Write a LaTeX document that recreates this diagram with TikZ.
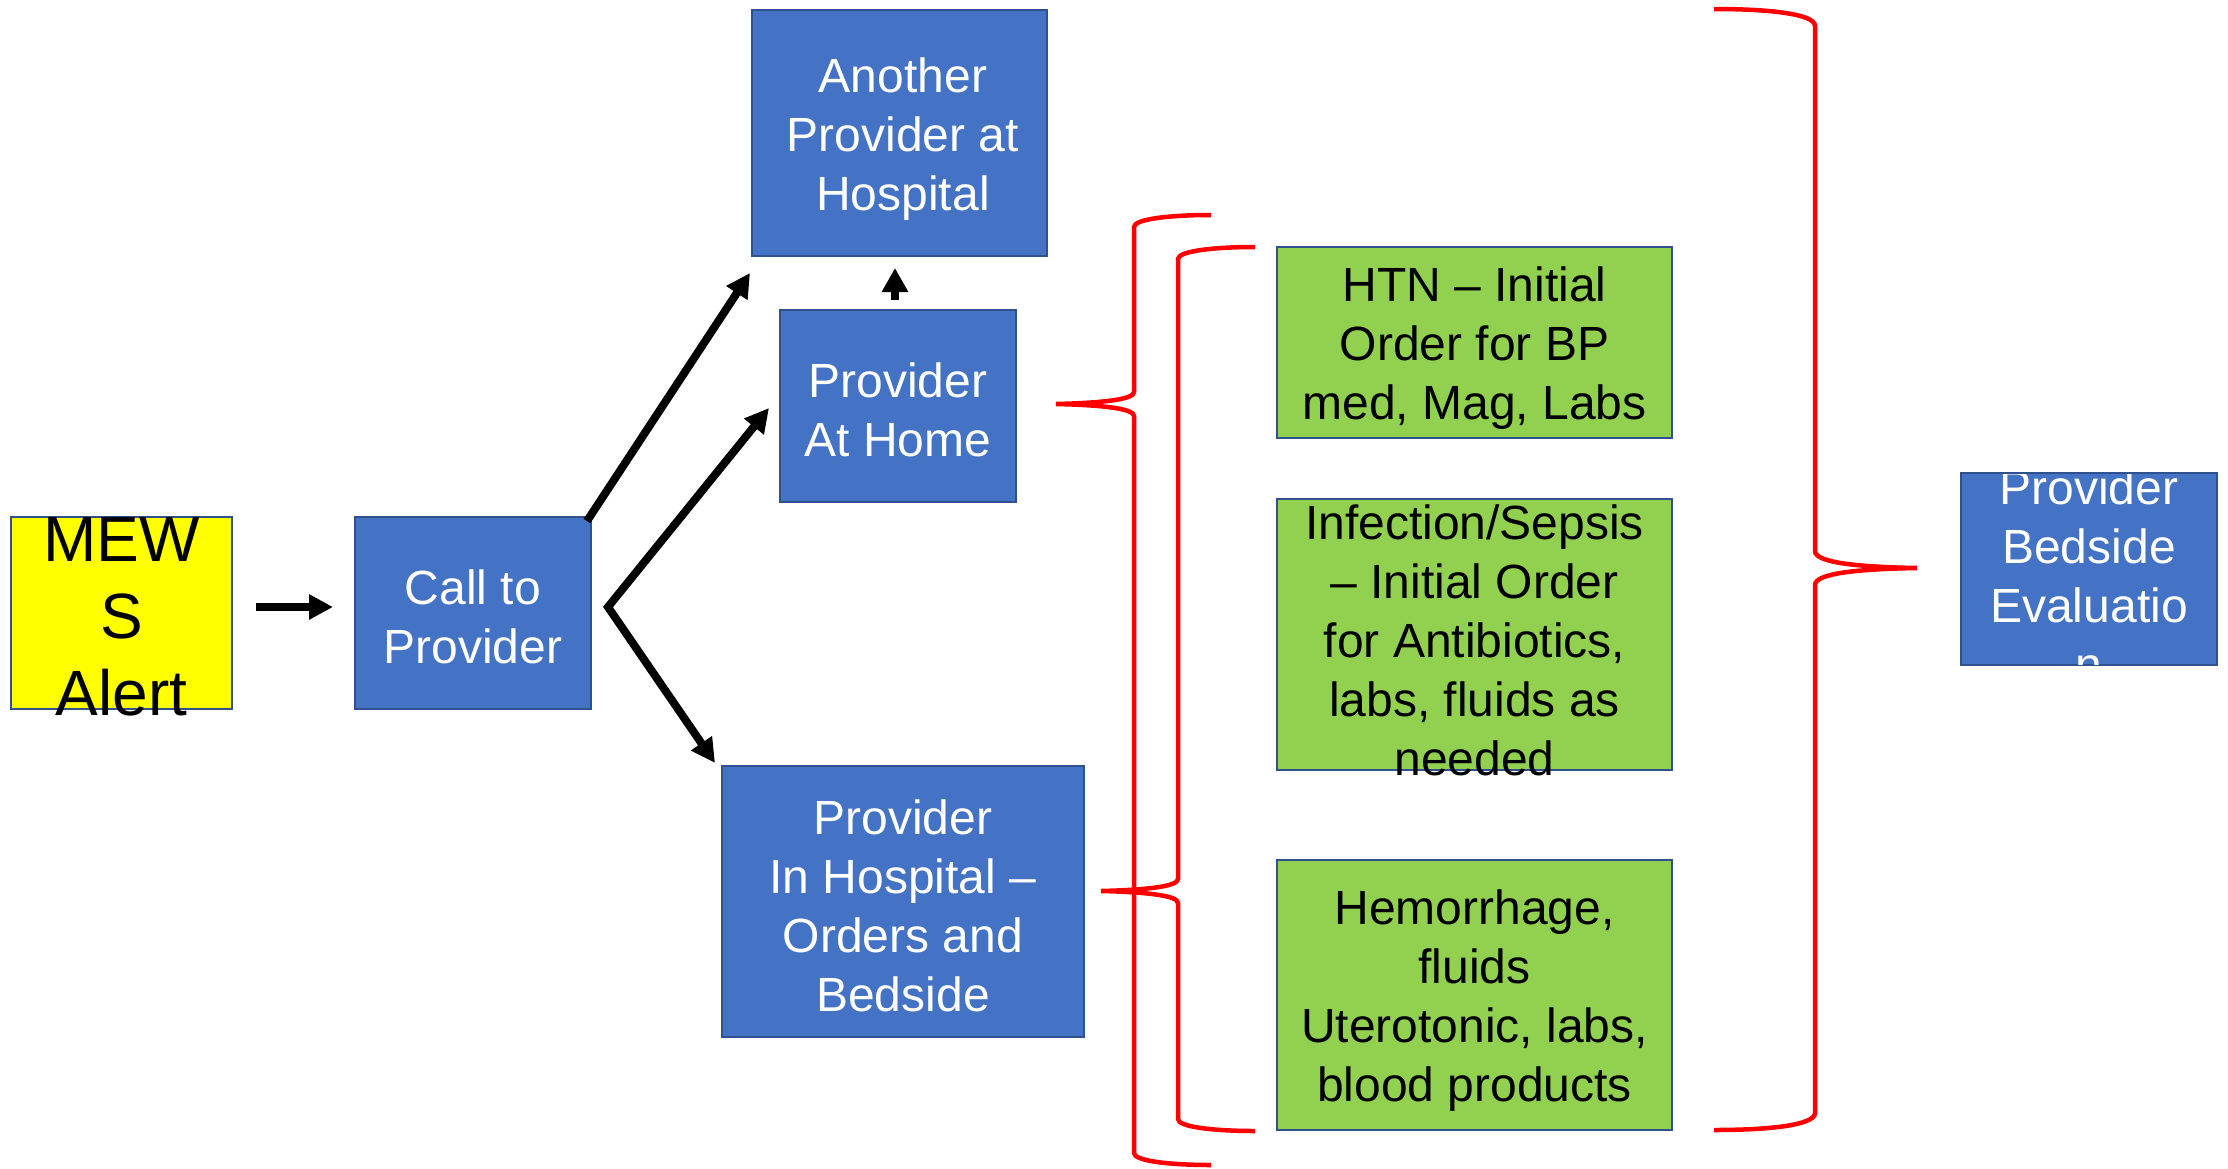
\documentclass[tikz,border=0pt]{standalone}
\usepackage{fontspec}
\setmainfont{Liberation Sans}
\usetikzlibrary{arrows.meta}
\definecolor{boxblue}{HTML}{4472C4}
\definecolor{edgeblue}{HTML}{2F528F}
\definecolor{boxgreen}{HTML}{92D050}
\definecolor{boxyellow}{HTML}{FFFF00}
\definecolor{bracered}{HTML}{FF0000}
\begin{document}
\begin{tikzpicture}[x=1pt,y=-1pt,
  box/.style={draw=edgeblue, line width=2.5pt, inner sep=0pt, outer sep=0pt},
  bluebox/.style={box, fill=boxblue},
  greenbox/.style={box, fill=boxgreen},
  yellowbox/.style={box, fill=boxyellow},
  wtxt/.style={text=white, align=center, inner sep=0pt, font=\fontsize{48}{59}\selectfont},
  ktxt/.style={text=black, align=center, inner sep=0pt, font=\fontsize{48}{59}\selectfont},
  arr/.style={line width=8pt, draw=black, -{Triangle[length=24pt,width=24pt]}},
  brc/.style={draw=bracered, line width=4.5pt}
]
\useasboundingbox (0,0) rectangle (2228,1168);

% boxes
\node[yellowbox, minimum width=221pt, minimum height=192pt] (mews) at (121.5,613) {};
\node[text=black, align=center, inner sep=0pt, font=\fontsize{64}{77}\selectfont] (mewst) at (121.5,617) {MEW\\S\\Alert};

\node[bluebox, minimum width=236pt, minimum height=192pt] (call) at (473,613) {};
\node[wtxt] (callt) at (473,617) {Call to\\Provider};

\node[bluebox, minimum width=295pt, minimum height=246pt] (another) at (899.5,133) {};
\node[wtxt] (anothert) at (903,139) {Another\\Provider at\\Hospital};

\node[bluebox, minimum width=236pt, minimum height=192pt] (home) at (898,406) {};
\node[wtxt] (homet) at (898,410) {Provider\\At Home};

\node[bluebox, minimum width=362pt, minimum height=271pt] (inhosp) at (903,901.5) {};
\node[wtxt] (inhospt) at (903,906) {Provider\\In Hospital –\\Orders and\\Bedside};

\node[greenbox, minimum width=395pt, minimum height=191pt] (htn) at (1474.5,342.5) {};
\node[ktxt] (htnt) at (1474.5,348) {HTN – Initial\\Order for BP\\med, Mag, Labs};

\node[greenbox, minimum width=395pt, minimum height=271pt] (sepsis) at (1474.5,634.5) {};
\node[ktxt] (sepsist) at (1474.5,640) {Infection/Sepsis\\– Initial Order\\for Antibiotics,\\labs, fluids as\\needed};

\node[greenbox, minimum width=395pt, minimum height=270pt] (hem) at (1474.5,995) {};
\node[ktxt] (hemt) at (1474.5,1001) {Hemorrhage,\\fluids\\Uterotonic, labs,\\blood products};

\node[bluebox, minimum width=256pt, minimum height=192pt] (bed) at (2089,569) {};
\begin{scope}
\clip ([shift={(1pt,-1pt)}]bed.north west) rectangle ([shift={(-1pt,1pt)}]bed.south east);
\node[wtxt] (bedt) at (2089,576) {Provider\\Bedside\\Evaluatio\\n};
\end{scope}

% arrows
\draw[arr] ([shift={(24pt,6pt)}]mews.east) -- ([shift={(-22pt,6pt)}]call.west);
\draw[arr] ([shift={(-4pt,-4pt)}]call.north east) -- ([shift={(-2pt,-17pt)}]another.south west);
\coordinate (fork) at (608,607);
\draw[line width=8pt, line join=miter, {Triangle[length=24pt,width=24pt]}-{Triangle[length=24pt,width=24pt]}]
  ([shift={(-11pt,-2pt)}]home.west) -- (fork) -- ([shift={(-7pt,3pt)}]inhosp.north west);
\draw[line width=8pt, -{Triangle[length=24pt,width=25pt]}] ([shift={(-3pt,10pt)}]home.north) -- ([shift={(-4.5pt,-12pt)}]another.south);

% braces
\draw[brc] (1211,215) .. controls (1170,215) and (1134,219) .. (1134,227) -- (1134,392)
  .. controls (1134,400) and (1098,403) .. (1056,404)
  .. controls (1098,405) and (1134,408) .. (1134,416) -- (1134,1153)
  .. controls (1134,1161) and (1170,1165) .. (1211,1165);
\draw[brc] (1255,247) .. controls (1214,247) and (1178,251) .. (1178,259) -- (1178,879)
  .. controls (1178,887) and (1142,890) .. (1101,891)
  .. controls (1142,892) and (1178,895) .. (1178,903) -- (1178,1119)
  .. controls (1178,1127) and (1214,1131) .. (1255,1131);
\draw[brc] (1714,9) .. controls (1770,9) and (1815,14) .. (1815,26) -- (1815,551)
  .. controls (1815,563) and (1860,567) .. (1917,568)
  .. controls (1860,569) and (1815,573) .. (1815,585) -- (1815,1113)
  .. controls (1815,1125) and (1770,1130) .. (1714,1130);
\end{tikzpicture}
\end{document}
